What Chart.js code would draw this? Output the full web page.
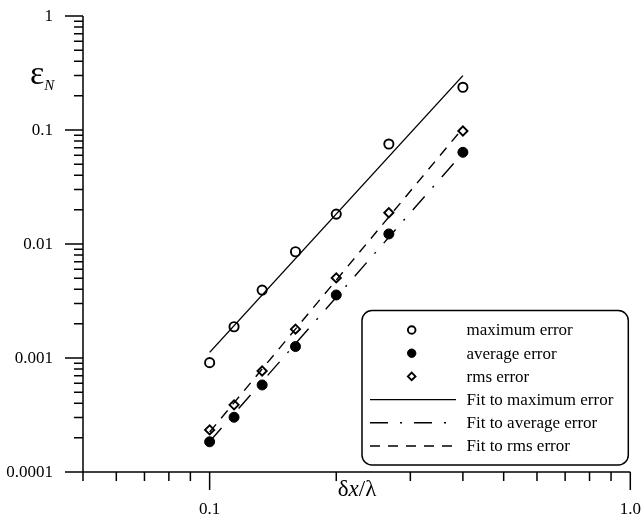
<!DOCTYPE html>
<html>
<head>
<meta charset="utf-8">
<script src="https://cdn.jsdelivr.net/npm/chart.js@4.4.1/dist/chart.umd.min.js"></script>
<style>
  html, body { margin: 0; padding: 0; background: #fff; }
  #wrap { width: 641px; height: 517px; }
</style>
</head>
<body>
<div id="wrap"><canvas id="chart" width="641" height="517"></canvas></div>
<script>
// grid spacing dx/lambda (lambda/dx = 10, 8.75, 7.5, 6.25, 5, 3.75, 2.5)
const gridSteps = [0.1, 0.1143, 0.1333, 0.16, 0.2, 0.2667, 0.4];
const maxError  = [0.00091, 0.00188, 0.00394, 0.00855, 0.0183, 0.0753, 0.237];
const avgError  = [0.000184, 0.000302, 0.00058, 0.00126, 0.00357, 0.01225, 0.0637];
const rmsError  = [0.000234, 0.000388, 0.000769, 0.00179, 0.00504, 0.0188, 0.098];

// fitted lines, read at both ends
const fitX   = [0.1, 0.4];
const fitMax = [0.00112, 0.30];
const fitAvg = [0.000185, 0.063];
const fitRms = [0.000224, 0.104];

// ticks
const xMajor = [0.1, 1.0];
const xMajorLabels = ['0.1', '1.0'];
const xMinor = [0.05, 0.06, 0.07, 0.08, 0.09, 0.2, 0.3, 0.4, 0.5, 0.6, 0.7, 0.8, 0.9];
const yMajor = [0.0001, 0.001, 0.01, 0.1, 1];
const yMajorLabels = ['0.0001', '0.001', '0.01', '0.1', '1'];
const yMinor = [];
[0.0001, 0.001, 0.01, 0.1].forEach(d => { for (let m = 2; m <= 9; m++) yMinor.push(d * m); });

const SERIF = '"Liberation Serif", "DejaVu Serif", serif';
const pts = (xs, ys) => xs.map((x, i) => ({ x: x, y: ys[i] }));

const axesPlugin = {
  id: 'axesPlugin',
  afterDraw(chart) {
    const ctx = chart.ctx;
    const xs = chart.scales.x, ys = chart.scales.y;
    const a = chart.chartArea;
    ctx.save();
    ctx.strokeStyle = '#000';
    ctx.fillStyle = '#000';
    ctx.lineWidth = 1.5;
    ctx.setLineDash([]);

    // axis lines
    ctx.beginPath();
    ctx.moveTo(a.left, a.top); ctx.lineTo(a.left, a.bottom);
    ctx.moveTo(a.left, a.bottom); ctx.lineTo(a.right, a.bottom);
    ctx.stroke();

    // y ticks
    ctx.beginPath();
    yMajor.forEach(v => { const p = ys.getPixelForValue(v); ctx.moveTo(a.left - 18, p); ctx.lineTo(a.left, p); });
    yMinor.forEach(v => { const p = ys.getPixelForValue(v); ctx.moveTo(a.left - 9, p); ctx.lineTo(a.left, p); });
    // x ticks
    xMajor.forEach(v => { const p = xs.getPixelForValue(v); ctx.moveTo(p, a.bottom); ctx.lineTo(p, a.bottom + 18); });
    xMinor.forEach(v => { const p = xs.getPixelForValue(v); ctx.moveTo(p, a.bottom); ctx.lineTo(p, a.bottom + 9); });
    ctx.stroke();

    // tick labels
    ctx.font = '17px ' + SERIF;
    ctx.textAlign = 'right';
    ctx.textBaseline = 'middle';
    yMajor.forEach((v, i) => ctx.fillText(yMajorLabels[i], 53, ys.getPixelForValue(v) + 1));
    ctx.textAlign = 'center';
    ctx.textBaseline = 'alphabetic';
    xMajor.forEach((v, i) => ctx.fillText(xMajorLabels[i], xs.getPixelForValue(v), 514));

    // x title: δx/λ
    ctx.textAlign = 'left';
    const parts = [['δ', '23px ' + SERIF], ['x', 'italic 23px ' + SERIF], ['/λ', '23px ' + SERIF]];
    let w = 0;
    parts.forEach(p => { ctx.font = p[1]; w += ctx.measureText(p[0]).width; });
    let cx = 357 - w / 2;
    parts.forEach(p => { ctx.font = p[1]; ctx.fillText(p[0], cx, 496); cx += ctx.measureText(p[0]).width; });

    // y title: ε_N
    ctx.font = '34px ' + SERIF;
    ctx.fillText('ε', 30, 84);
    const ew = ctx.measureText('ε').width;
    ctx.font = 'italic 15px ' + SERIF;
    ctx.fillText('N', 30 + ew, 90);

    // legend box
    const bx = 362, by = 310.5, bw = 266.3, bh = 154.5, r = 10;
    ctx.beginPath();
    ctx.moveTo(bx + r, by);
    ctx.lineTo(bx + bw - r, by); ctx.arcTo(bx + bw, by, bx + bw, by + r, r);
    ctx.lineTo(bx + bw, by + bh - r); ctx.arcTo(bx + bw, by + bh, bx + bw - r, by + bh, r);
    ctx.lineTo(bx + r, by + bh); ctx.arcTo(bx, by + bh, bx, by + bh - r, r);
    ctx.lineTo(bx, by + r); ctx.arcTo(bx, by, bx + r, by, r);
    ctx.closePath();
    ctx.fillStyle = '#fff';
    ctx.fill();
    ctx.stroke();

    const rowY = [330, 353.2, 376.4, 399.6, 422.8, 446];
    chart.data.datasets.forEach((ds, i) => {
      const y = rowY[i];
      ctx.strokeStyle = '#000';
      ctx.fillStyle = ds.pointBackgroundColor || '#000';
      if (ds.showLine) {
        ctx.lineWidth = ds.borderWidth;
        ctx.setLineDash(ds.borderDash || []);
        ctx.beginPath(); ctx.moveTo(370, y); ctx.lineTo(456, y); ctx.stroke();
        ctx.setLineDash([]);
      } else {
        ctx.lineWidth = ds.pointBorderWidth;
        Chart.helpers.drawPoint(ctx, { pointStyle: ds.pointStyle, radius: ds.pointRadius - 0.8, rotation: 0, borderWidth: ds.pointBorderWidth }, 411.7, y);
      }
      ctx.fillStyle = '#000';
      ctx.font = '17px ' + SERIF;
      ctx.textAlign = 'left';
      ctx.textBaseline = 'middle';
      ctx.fillText(ds.label, 466.5, y + 1);
    });
    ctx.restore();
  }
};

new Chart(document.getElementById('chart'), {
  type: 'scatter',
  data: {
    datasets: [
      { label: 'maximum error', data: pts(gridSteps, maxError), showLine: false,
        pointStyle: 'circle', pointRadius: 4.6, pointBorderWidth: 1.9,
        pointBackgroundColor: 'rgba(0,0,0,0)', pointBorderColor: '#000' },
      { label: 'average error', data: pts(gridSteps, avgError), showLine: false,
        pointStyle: 'circle', pointRadius: 5, pointBorderWidth: 1,
        pointBackgroundColor: '#000', pointBorderColor: '#000' },
      { label: 'rms error', data: pts(gridSteps, rmsError), showLine: false,
        pointStyle: 'rectRot', pointRadius: 4.6, pointBorderWidth: 1.9,
        pointBackgroundColor: 'rgba(0,0,0,0)', pointBorderColor: '#000' },
      { label: 'Fit to maximum error', data: pts(fitX, fitMax), showLine: true,
        borderColor: '#000', borderWidth: 1.4, borderDash: [], pointRadius: 0 },
      { label: 'Fit to average error', data: pts(fitX, fitAvg), showLine: true,
        borderColor: '#000', borderWidth: 1.4, borderDash: [18, 12, 2, 12], pointRadius: 0 },
      { label: 'Fit to rms error', data: pts(fitX, fitRms), showLine: true,
        borderColor: '#000', borderWidth: 1.4, borderDash: [10, 8], pointRadius: 0 }
    ]
  },
  options: {
    responsive: false,
    animation: false,
    devicePixelRatio: 1,
    layout: { padding: { top: 16, right: 10.7, left: 0, bottom: 0 } },
    plugins: { legend: { display: false }, tooltip: { enabled: false } },
    scales: {
      x: {
        type: 'logarithmic', min: 0.05, max: 1,
        ticks: { display: false }, grid: { display: false, drawTicks: false }, border: { display: false },
        afterFit(s) { s.height = 45; }
      },
      y: {
        type: 'logarithmic', min: 0.0001, max: 1,
        ticks: { display: false }, grid: { display: false, drawTicks: false }, border: { display: false },
        afterFit(s) { s.width = 83; }
      }
    }
  },
  plugins: [axesPlugin]
});
</script>
</body>
</html>
